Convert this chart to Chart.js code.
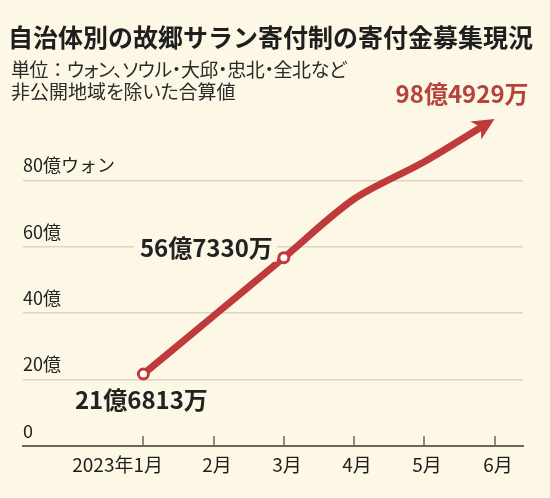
<!DOCTYPE html>
<html>
<head>
<meta charset="utf-8">
<script src="https://cdn.jsdelivr.net/npm/chart.js@4.4.0/dist/chart.umd.min.js"></script>
<style>
    body { margin: 0; background: #fdf8e5; font-family: "Noto Sans CJK JP", sans-serif; }
    #wrap { position: relative; width: 550px; height: 498px; overflow: hidden; }
    #title { position: absolute; left: 8px; top: 21px; font-size: 25px; line-height: 30px; font-weight: bold; color: #1e1e1e; white-space: nowrap; }
    #sub { position: absolute; left: 11px; top: 58px; font-size: 19px; line-height: 22px; color: #2a2a2a; white-space: nowrap; font-feature-settings: "palt"; }
    #sub .l1 { letter-spacing: -0.4px; }
    #sub .c { font-feature-settings: normal; }
    canvas { position: absolute; left: 0; top: 0; }
</style>
</head>
<body>
<div id="wrap">
    <canvas id="myChart" width="550" height="498"></canvas>
    <div id="title">自治体別の故郷サラン寄付制の寄付金募集現況</div>
    <div id="sub"><span class="l1">単位<span class="c">：</span>ウォン、ソウル・大邱・忠北・全北など</span><br>非公開地域を除いた合算値</div>
</div>

<script>
    // 億ウォン, cumulative
    var months = ["2023年1月", "2月", "3月", "4月", "5月", "6月"];
    var monthPos = [1, 2, 3, 4, 5, 6];
    var amounts = [21.6813, 39.2, 56.733, 74.4, 85.6, 98.4929];
    var markerIdx = [0, 2];
    var callouts = ["21億6813万", "", "56億7330万", "", "", "98億4929万"];
    var yTicks = [0, 20, 40, 60, 80];
    var yTickLabels = ["0", "20億", "40億", "60億", "80億ウォン"];

    var BG = "#fdf8e5";
    var RED = "#bf3a3b";
    var AXIS = "#6a6856";
    var GRID = "#d9d6c4";
    var FONT = "'Noto Sans CJK JP', sans-serif";

    Chart.defaults.font.family = FONT;

    var overlay = {
        id: "overlay",
        afterDatasetsDraw: function (chart) {
            // arrow head on the last point
            var ctx = chart.ctx;
            var pts = chart.getDatasetMeta(0).data;
            var a = pts[pts.length - 2], b = pts[pts.length - 1];
            var ang = Math.atan2(b.y - a.y, b.x - a.x);
            ctx.save();
            ctx.translate(b.x, b.y);
            ctx.rotate(ang);
            ctx.fillStyle = BG;
            ctx.fillRect(-8, -5, 11, 10);
            ctx.fillStyle = RED;
            ctx.beginPath();
            ctx.moveTo(0, 0);
            ctx.lineTo(-22, -10.5);
            ctx.lineTo(-16, 0);
            ctx.lineTo(-22, 10.5);
            ctx.closePath();
            ctx.fill();
            ctx.restore();
        },
        afterDraw: function (chart) {
            var ctx = chart.ctx;
            var xs = chart.scales.x;
            var bottom = chart.chartArea.bottom;
            ctx.save();
            // month tick marks + labels
            ctx.strokeStyle = AXIS;
            ctx.lineWidth = 1.5;
            ctx.fillStyle = "#1e1e1e";
            ctx.font = "19px " + FONT;
            ctx.textBaseline = "middle";
            for (var i = 0; i < monthPos.length; i++) {
                var px = Math.round(xs.getPixelForValue(monthPos[i]));
                ctx.beginPath();
                ctx.moveTo(px, bottom - 10);
                ctx.lineTo(px, bottom);
                ctx.stroke();
                if (i == 0) {
                    ctx.textAlign = "right";
                    ctx.fillText(months[i], px + 20, bottom + 19);
                } else {
                    ctx.textAlign = "center";
                    ctx.fillText(months[i], px + 3, bottom + 19);
                }
            }
            // value callouts
            var pts = chart.getDatasetMeta(0).data;
            ctx.font = "bold 24px " + FONT;
            for (var j = 0; j < callouts.length; j++) {
                if (!callouts[j]) continue;
                var p = pts[j];
                if (j == 0) {
                    ctx.textAlign = "center";
                    ctx.fillStyle = "#222";
                    ctx.fillText(callouts[j], p.x - 2, p.y + 26);
                } else if (j == pts.length - 1) {
                    ctx.textAlign = "right";
                    ctx.fillStyle = "#b4433c";
                    ctx.fillText(callouts[j], p.x + 34, p.y - 25);
                } else {
                    var w = ctx.measureText(callouts[j]).width;
                    ctx.fillStyle = BG;
                    ctx.fillRect(p.x - 11 - w - 6, p.y - 24, w + 10, 28);
                    ctx.textAlign = "right";
                    ctx.fillStyle = "#222";
                    ctx.fillText(callouts[j], p.x - 11, p.y - 10);
                }
            }
            ctx.restore();
        }
    };

    var myChart = new Chart("myChart", {
        type: "line",
        data: {
            datasets: [{
                data: monthPos.map(function (x, i) { return { x: x, y: amounts[i] }; }),
                borderColor: RED,
                borderWidth: 7,
                borderCapStyle: "butt",
                borderJoinStyle: "round",
                tension: 0.3,
                clip: false,
                pointRadius: amounts.map(function (v, i) { return markerIdx.indexOf(i) >= 0 ? 5 : 0; }),
                pointBackgroundColor: "#fff",
                pointBorderColor: RED,
                pointBorderWidth: 3
            }]
        },
        options: {
            responsive: false,
            animation: false,
            layout: { padding: { left: 23, right: 27, top: 114, bottom: 52 } },
            plugins: { legend: { display: false }, tooltip: { enabled: false } },
            scales: {
                x: {
                    type: "linear",
                    min: -0.714,
                    max: 6.405,
                    ticks: { display: false },
                    grid: { display: true, drawOnChartArea: false, drawTicks: false },
                    border: { display: true, color: AXIS, width: 2 }
                },
                y: {
                    min: 0,
                    max: 100,
                    afterBuildTicks: function (s) { s.ticks = yTicks.map(function (v) { return { value: v }; }); },
                    ticks: {
                        mirror: true,
                        padding: 0,
                        labelOffset: -15,
                        color: "#222",
                        font: { size: 18 },
                        callback: function (v, i) { return yTickLabels[i]; }
                    },
                    grid: {
                        drawTicks: false,
                        lineWidth: 1.5,
                        color: function (c) { return c.tick && c.tick.value === 0 ? "rgba(0,0,0,0)" : GRID; }
                    },
                    border: { display: false }
                }
            }
        },
        plugins: [overlay]
    });
</script>
</body>
</html>
